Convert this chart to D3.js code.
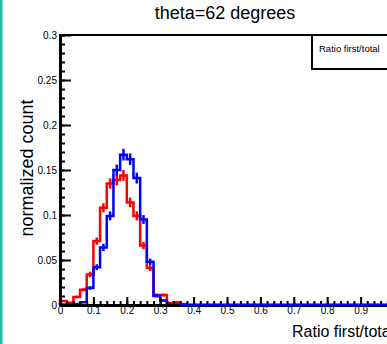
<!DOCTYPE html>
<html lang="en">
<head>
<meta charset="UTF-8">
<title>theta=62 degrees</title>
<script src="https://d3js.org/d3.v7.min.js"></script>
<style>
  body { margin: 0; background: #fff; }
  svg { display: block; font-family: "Liberation Sans", Arial, Helvetica, sans-serif; }
  .axis text { font-size: 10px; fill: #000; }
</style>
</head>
<body>
<div id="chart"></div>
<script>
// bins of width 0.02 from 0 to 1 (only non-empty leading bins listed, rest are 0)
const binWidth = 0.02;
const redValues = [0.0045, 0.0025, 0.009, 0.017, 0.034, 0.071, 0.108, 0.135, 0.139, 0.144,
                   0.114, 0.099, 0.066, 0.041, 0.011, 0.011, 0.002, 0.003, 0.001];
const redErrors = [0.001, 0.001, 0.0015, 0.002, 0.003, 0.004, 0.005, 0.0058, 0.006, 0.006,
                   0.0054, 0.005, 0.004, 0.0032, 0.0017, 0.0017, 0.0007, 0.0009, 0.0005];
const blueValues = [0.0005, 0.0005, 0.001, 0.003, 0.019, 0.042, 0.064, 0.099, 0.150, 0.167,
                    0.162, 0.141, 0.095, 0.048, 0.010, 0.005, 0.0005, 0.0005];
const blueErrors = [0.0004, 0.0004, 0.0005, 0.0009, 0.002, 0.0032, 0.004, 0.005, 0.006, 0.0065,
                    0.0064, 0.006, 0.0049, 0.0035, 0.0016, 0.0011, 0.0004, 0.0004];
const nBins = 50;
const yTicks = [0, 0.05, 0.1, 0.15, 0.2, 0.25, 0.3];
const xTicks = [0, 0.1, 0.2, 0.3, 0.4, 0.5, 0.6, 0.7, 0.8, 0.9];

const W = 387, H = 344;
const frame = { left: 60, top: 35, right: 394, bottom: 305 };

const svg = d3.select("#chart").append("svg")
    .attr("width", W).attr("height", H);

// teal page border on the left
svg.append("rect").attr("x", 0).attr("y", 0).attr("width", 2.5).attr("height", H)
    .attr("fill", "#22bfa8");

const x = d3.scaleLinear().domain([0, 1]).range([frame.left, frame.right]);
const y = d3.scaleLinear().domain([0, 0.3]).range([frame.bottom, frame.top]);

// frame
svg.append("rect")
    .attr("x", frame.left).attr("y", frame.top)
    .attr("width", frame.right - frame.left).attr("height", frame.bottom - frame.top)
    .attr("fill", "none").attr("stroke", "#000").attr("stroke-width", 2);

// legend box
svg.append("rect")
    .attr("x", 312).attr("y", frame.top).attr("width", 100).attr("height", 34)
    .attr("fill", "#fff").attr("stroke", "#000").attr("stroke-width", 2);
svg.append("text")
    .attr("x", 319).attr("y", 51.5)
    .attr("font-size", "9.5px")
    .text("Ratio first/total");

// histograms
function fullBins(vals) {
    return d3.range(nBins).map(i => (i < vals.length ? vals[i] : 0));
}
function stepPath(vals) {
    const v = fullBins(vals);
    let d = `M${x(0)},${y(0)}`;
    v.forEach((val, i) => {
        d += `L${x(i * binWidth)},${y(val)}L${x((i + 1) * binWidth)},${y(val)}`;
    });
    d += `L${x(1)},${y(0)}`;
    return d;
}
function drawHist(vals, errs, color) {
    svg.append("path")
        .attr("d", stepPath(vals))
        .attr("fill", "none")
        .attr("stroke", color)
        .attr("stroke-width", 2.5);
    svg.append("g").selectAll("line")
        .data(vals.map((v, i) => ({ v, e: errs[i], i })).filter(d => d.v > 0))
        .join("line")
        .attr("x1", d => x((d.i + 0.5) * binWidth))
        .attr("x2", d => x((d.i + 0.5) * binWidth))
        .attr("y1", d => y(d.v - d.e))
        .attr("y2", d => y(d.v + d.e))
        .attr("stroke", color)
        .attr("stroke-width", 2.5);
}
drawHist(redValues, redErrors, "#ff0000");
drawHist(blueValues, blueErrors, "#0000ff");

// y axis: major ticks with labels, minor ticks every 0.01
svg.append("g")
    .attr("class", "axis")
    .attr("transform", `translate(${frame.left},0)`)
    .call(d3.axisLeft(y).tickValues(d3.range(0, 0.3001, 0.01)).tickSizeInner(-5).tickSizeOuter(0).tickFormat(""))
    .call(g => g.selectAll(".tick line").attr("stroke-width", 2))
    .call(g => g.select(".domain").remove());
svg.append("g")
    .attr("class", "axis")
    .attr("transform", `translate(${frame.left},0)`)
    .call(d3.axisLeft(y).tickValues(yTicks).tickSizeInner(-11).tickSizeOuter(0).tickPadding(3)
        .tickFormat(d3.format("~g")))
    .call(g => g.selectAll(".tick line").attr("stroke-width", 2))
    .call(g => g.select(".domain").attr("stroke-width", 3));

// x axis: major ticks every 0.1, minor every 0.02
svg.append("g")
    .attr("class", "axis")
    .attr("transform", `translate(0,${frame.bottom})`)
    .call(d3.axisBottom(x).tickValues(d3.range(0, 1.0001, 0.02)).tickSizeInner(-4).tickSizeOuter(0).tickFormat(""))
    .call(g => g.selectAll(".tick line").attr("stroke-width", 2))
    .call(g => g.select(".domain").remove());
svg.append("g")
    .attr("class", "axis")
    .attr("transform", `translate(0,${frame.bottom})`)
    .call(d3.axisBottom(x).tickValues(xTicks).tickSizeInner(-8).tickSizeOuter(0).tickPadding(2)
        .tickFormat(d3.format("~g")))
    .call(g => g.selectAll(".tick line").attr("stroke-width", 2))
    .call(g => g.select(".domain").attr("stroke-width", 3));

// blue baseline lies over the axis, as in the reference
svg.append("line")
    .attr("x1", x(0.36)).attr("x2", x(1)).attr("y1", y(0)).attr("y2", y(0))
    .attr("stroke", "#0000ff").attr("stroke-width", 2.5);

// titles
svg.append("text")
    .attr("x", 225).attr("y", 19)
    .attr("text-anchor", "middle")
    .attr("font-size", "18px")
    .text("theta=62 degrees");

svg.append("text")
    .attr("transform", "translate(33,168) rotate(-90)")
    .attr("text-anchor", "middle")
    .attr("font-size", "18px")
    .text("normalized count");

svg.append("text")
    .attr("x", 292).attr("y", 337)
    .attr("font-size", "16px")
    .text("Ratio first/total");
</script>
</body>
</html>
